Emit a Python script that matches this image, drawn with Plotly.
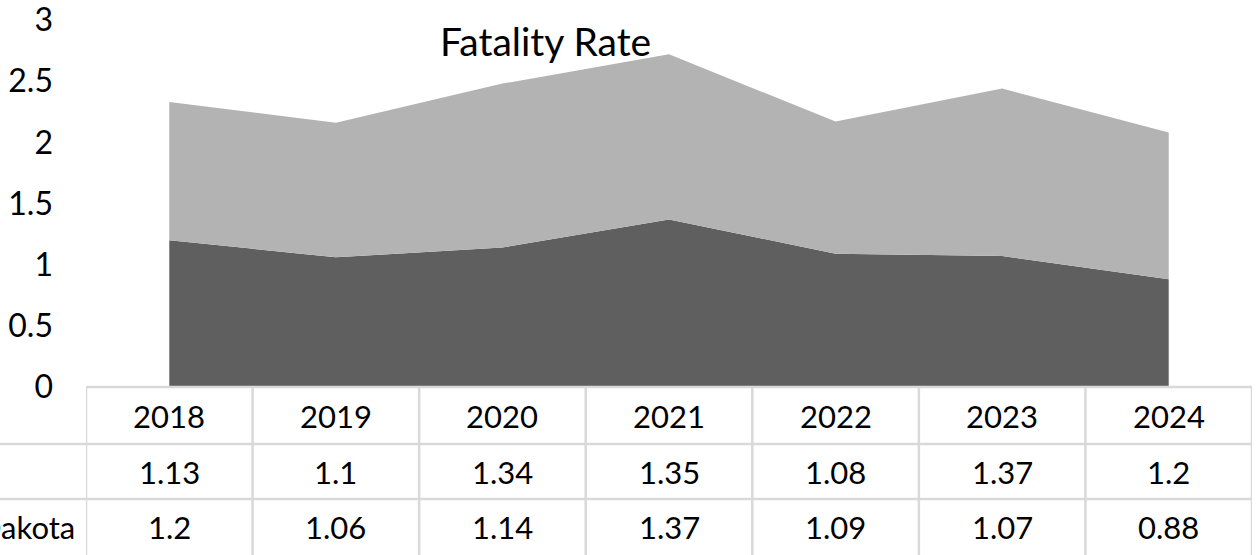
import plotly.graph_objects as go

years = ["2018", "2019", "2020", "2021", "2022", "2023", "2024"]
row1_label = "National"
row1_values = [1.13, 1.1, 1.34, 1.35, 1.08, 1.37, 1.2]
row2_label = "South Dakota"
row2_values = [1.2, 1.06, 1.14, 1.37, 1.09, 1.07, 0.88]
y_ticks = [0, 0.5, 1, 1.5, 2, 2.5, 3]
title_text = "Fatality Rate"

W, H = 1258, 555
ML, MR, MT, MB = 86, 6, 20, 168
PW = W - ML - MR
PH = H - MT - MB

def px_x(p):
    return (p - ML) / PW

def px_y(p):
    return (H - MB - p) / PH

FONT = "Lato, 'Open Sans', sans-serif"
DARK = "#5f5f5f"
LIGHT = "#b3b3b3"
GRID = "#d9d9d9"

fig = go.Figure()
fig.add_trace(go.Scatter(x=years, y=row2_values, name=row2_label, stackgroup="one",
                         mode="none", fillcolor=DARK, line=dict(width=0)))
fig.add_trace(go.Scatter(x=years, y=row1_values, name=row1_label, stackgroup="one",
                         mode="none", fillcolor=LIGHT, line=dict(width=0)))

shapes = []
ann = []
top_y, r1_y, r2_y, bot_y = 387, 444, 499, 560
n = len(years)
shapes.append(dict(type="line", xref="paper", yref="paper", x0=0, x1=1,
                   y0=px_y(top_y), y1=px_y(top_y), line=dict(color=GRID, width=2.5)))
for yy in (r1_y, r2_y):
    shapes.append(dict(type="line", xref="paper", yref="paper", x0=px_x(0), x1=1,
                       y0=px_y(yy), y1=px_y(yy), line=dict(color=GRID, width=2.5)))
for i in range(n + 1):
    shapes.append(dict(type="line", xref="x", yref="paper", x0=i - 0.5, x1=i - 0.5,
                       y0=px_y(top_y), y1=px_y(bot_y), line=dict(color=GRID, width=2.5)))

cy = [(top_y + r1_y) / 2, (r1_y + r2_y) / 2, 527]
cell_font = dict(family=FONT, size=31, color="#000000")
for i, yr in enumerate(years):
    for row, txt in enumerate([yr, f"{row1_values[i]:g}", f"{row2_values[i]:g}"]):
        ann.append(dict(x=i, xref="x", y=px_y(cy[row]), yref="paper", text=txt, showarrow=False,
                        font=cell_font, xanchor="center", yanchor="middle"))
# row label, cut off at the left edge as in the reference
ann.append(dict(x=px_x(77), xref="paper", y=px_y(cy[2]), yref="paper", text=row2_label, showarrow=False,
                font=cell_font, xanchor="right", yanchor="middle"))
# title
ann.append(dict(x=px_x(545), xref="paper", y=px_y(41), yref="paper", text=title_text, showarrow=False,
                font=dict(family=FONT, size=39, color="#000000"), xanchor="center", yanchor="middle"))

fig.update_layout(
    width=W, height=H, autosize=False,
    margin=dict(l=ML, r=MR, t=MT, b=MB, pad=0, autoexpand=False),
    paper_bgcolor="white", plot_bgcolor="white",
    showlegend=False,
    shapes=shapes, annotations=ann,
    xaxis=dict(type="category", range=[-0.5, n - 0.5], showticklabels=False, showgrid=False,
               zeroline=False, showline=False, ticks="", automargin=False),
    yaxis=dict(range=[0, 3], tickvals=y_ticks, ticktext=[f"{v:g}" for v in y_ticks],
               showgrid=False, zeroline=False, showline=False, ticks="",
               ticklabelstandoff=32, ticklabeloverflow="allow", automargin=False,
               tickfont=dict(family=FONT, size=32, color="#000000")),
)

fig.write_html("out.html")
